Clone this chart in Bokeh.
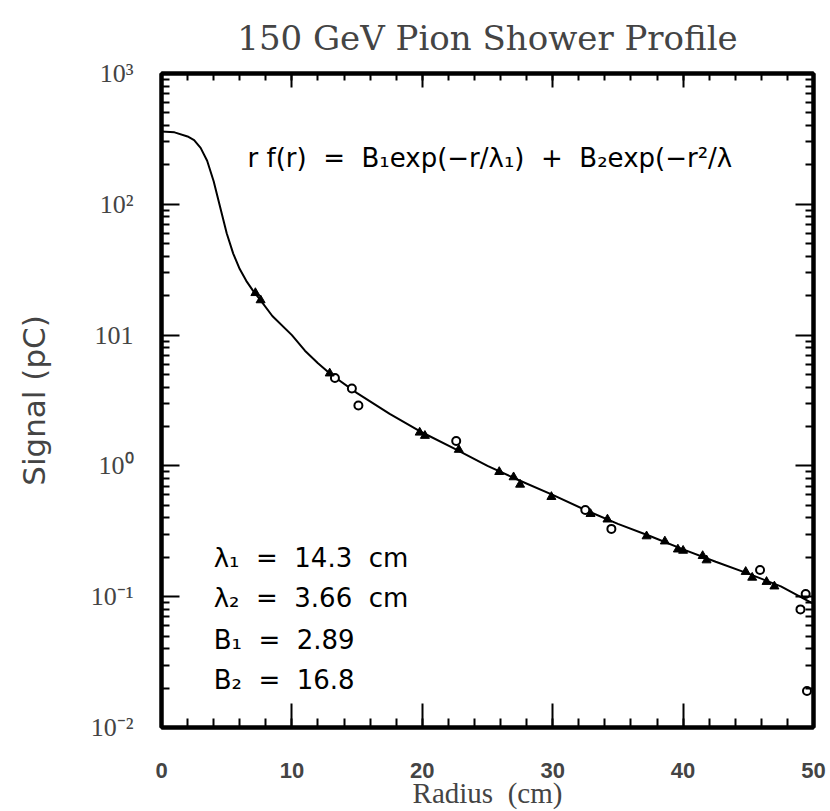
from bokeh.plotting import figure
from bokeh.models import LinearAxis, LogAxis, Label, FixedTicker, Range1d, CustomJSTickFormatter
from bokeh.embed import file_html
from bokeh.resources import INLINE

# ---- data ----
curve_r = [0, 1, 2, 2.5, 3, 3.5, 4, 4.5, 5, 5.5, 6, 6.5, 7, 7.5, 8.5, 10, 11, 12, 13,
           15, 17.5, 20, 22.5, 25, 27.5, 30, 32.5, 35, 37.5, 40, 42.5, 45, 47.5, 50]
curve_v = [360, 355, 330, 310, 270, 215, 150, 95, 60, 42, 32, 26, 22, 19, 14, 10, 7.6, 6.1, 5.0,
           3.6, 2.5, 1.8, 1.35, 1.0, 0.77, 0.6, 0.46, 0.36, 0.29, 0.23, 0.185, 0.15, 0.12, 0.088]

open_r = [13.3, 14.6, 15.1, 22.6, 32.5, 34.5, 45.9, 49.4, 49.0, 49.5]
open_v = [4.7, 3.9, 2.9, 1.55, 0.46, 0.33, 0.16, 0.105, 0.08, 0.019]

fill_r = [7.2, 7.6, 12.9, 19.8, 20.2, 22.8, 25.9, 27.0, 27.5, 29.9, 32.9, 34.2, 37.2,
          38.6, 39.6, 40.0, 41.5, 41.8, 44.8, 45.3, 46.4, 47.0]
fill_v = [21, 18.5, 5.1, 1.8, 1.7, 1.33, 0.9, 0.82, 0.72, 0.58, 0.43, 0.39, 0.29,
          0.265, 0.23, 0.225, 0.205, 0.19, 0.155, 0.14, 0.13, 0.12]

x_ticks = [0, 10, 20, 30, 40, 50]
y_ticks = [0.01, 0.1, 1, 10, 100, 1000]
y_tick_labels = ["10\u207b\u00b2", "10\u207b\u00b9", "10\u2070", "101", "10\u00b2", "10\u00b3"]

NB = "\u00a0"
title_text = "150 GeV Pion Shower Profile"
x_title = "Radius" + NB * 2 + "(cm)"
y_title = "Signal (pC)"
formula = ("r f(r)" + NB * 2 + "=" + NB * 2 + "B\u2081exp(\u2212r/\u03bb\u2081)" + NB * 2 + "+"
           + NB * 2 + "B\u2082exp(\u2212r\u00b2/\u03bb")
params = ["\u03bb\u2081" + NB * 2 + "=" + NB * 2 + "14.3" + NB * 2 + "cm",
          "\u03bb\u2082" + NB * 2 + "=" + NB * 2 + "3.66" + NB * 2 + "cm",
          "B\u2081" + NB * 2 + "=" + NB * 2 + "2.89",
          "B\u2082" + NB * 2 + "=" + NB * 2 + "16.8"]
param_x = 4.0
param_y = [0.198, 0.098, 0.047, 0.0232]
formula_x, formula_y = 6.6, 224

x_minor = list(range(0, 51, 2))
y_minor = [m * 10 ** e for e in range(-2, 3) for m in range(2, 10)]

p = figure(width=830, height=811, y_axis_type="log", output_backend="svg",
           toolbar_location=None, x_range=Range1d(0, 50), y_range=Range1d(0.01, 1000),
           min_border_left=161, min_border_right=17, min_border_top=72, min_border_bottom=83)
p.background_fill_color = "white"
p.border_fill_color = "white"
p.grid.visible = False
p.outline_line_color = "black"
p.outline_line_width = 4

p.title.text = title_text
p.title.text_font = "DejaVu Serif"
p.title.text_font_size = "34px"
p.title.text_font_style = "normal"
p.title.align = "center"
p.title.standoff = 31

xa = p.xaxis[0]
xa.ticker = FixedTicker(ticks=x_ticks, minor_ticks=x_minor)
xa.axis_label = x_title
xa.axis_label_text_font = "Liberation Serif"
xa.axis_label_text_font_size = "29px"
xa.axis_label_text_font_style = "normal"
xa.axis_label_standoff = -4
xa.major_label_text_font = "Liberation Sans"
xa.major_label_text_font_style = "bold"
xa.major_label_text_font_size = "22px"
xa.major_label_standoff = 35
xa.major_tick_in = 24
xa.major_tick_out = 0
xa.minor_tick_in = 9
xa.minor_tick_out = 0
xa.axis_line_width = 4
xa.major_tick_line_width = 2
xa.minor_tick_line_width = 2

ya = p.yaxis[0]
ya.ticker = FixedTicker(ticks=y_ticks, minor_ticks=y_minor)
ya.major_label_overrides = {v: s for v, s in zip(y_ticks, y_tick_labels)}
ya.axis_label = y_title
ya.axis_label_text_font = "DejaVu Sans"
ya.axis_label_text_font_size = "31px"
ya.axis_label_text_font_style = "normal"
ya.axis_label_standoff = 36
ya.major_label_text_font = "Liberation Serif"
ya.major_label_text_font_size = "26px"
ya.major_label_standoff = 28
ya.major_tick_in = 18
ya.major_tick_out = 0
ya.minor_tick_in = 8
ya.minor_tick_out = 0
ya.axis_line_width = 4
ya.major_tick_line_width = 2
ya.minor_tick_line_width = 2

blank = CustomJSTickFormatter(code="return ''")
top = LinearAxis(ticker=FixedTicker(ticks=x_ticks, minor_ticks=x_minor), formatter=blank,
                 major_tick_in=14, major_tick_out=0,
                 minor_tick_in=7, minor_tick_out=0, axis_line_width=4,
                 major_tick_line_width=2, minor_tick_line_width=2, major_label_standoff=0)
p.add_layout(top, "above")
right = LogAxis(ticker=FixedTicker(ticks=y_ticks, minor_ticks=y_minor), formatter=blank,
                major_tick_in=18, major_tick_out=0,
                minor_tick_in=8, minor_tick_out=0, axis_line_width=4,
                major_tick_line_width=2, minor_tick_line_width=2, major_label_standoff=0)
p.add_layout(right, "right")

p.line(curve_r, curve_v, line_color="black", line_width=2)
p.scatter(open_r, open_v, marker="circle", size=8, fill_color="white",
          line_color="black", line_width=2)
p.scatter(fill_r, fill_v, marker="triangle", size=9, fill_color="black",
          line_color="black", line_width=1)

p.add_layout(Label(x=formula_x, y=formula_y, text=formula, text_font="DejaVu Sans",
                   text_font_size="26px", text_baseline="middle", text_color="black"))
for s, yv in zip(params, param_y):
    p.add_layout(Label(x=param_x, y=yv, text=s, text_font="DejaVu Sans",
                       text_font_size="26px", text_baseline="middle", text_color="black"))

open("out.html", "w").write(file_html(p, INLINE))
